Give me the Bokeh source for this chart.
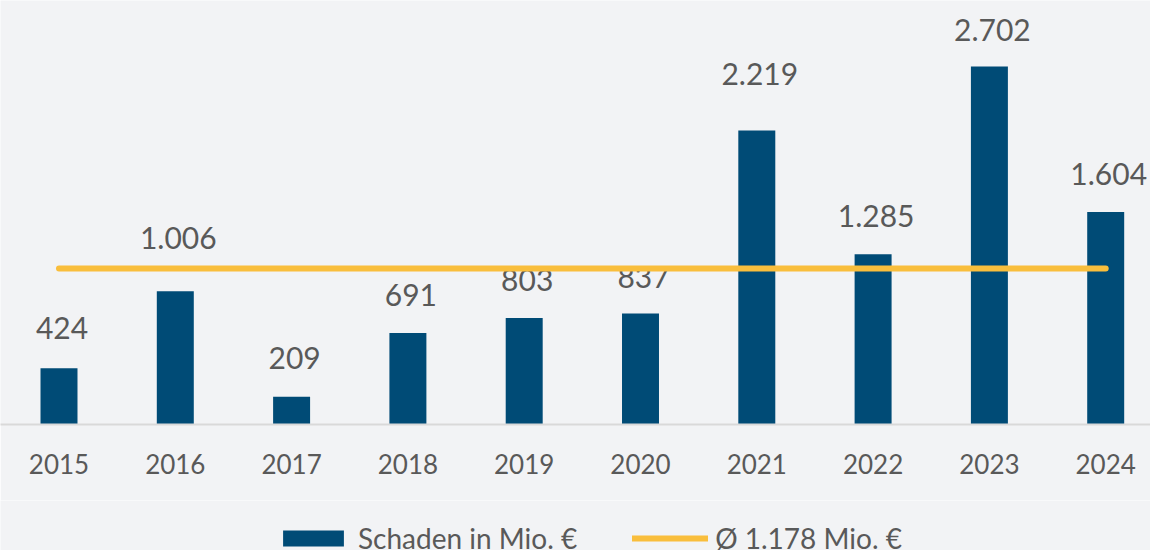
from bokeh.plotting import figure
from bokeh.layouts import column
from bokeh.models import ColumnDataSource, FixedTicker, Range1d, Legend, LegendItem
from bokeh.core.properties import value
from bokeh.embed import file_html
from bokeh.resources import INLINE

# ---- data ----
years = ["2015", "2016", "2017", "2018", "2019", "2020", "2021", "2022", "2023", "2024"]
damage = [424, 1006, 209, 691, 803, 837, 2219, 1285, 2702, 1604]
avg_value = 1178
bar_name = "Schaden in Mio. €"
avg_name = "Ø 1.178 Mio. €"

def de_fmt(v):
    return f"{v:,}".replace(",", ".")

labels = [de_fmt(v) for v in damage]
# label lift above bar top (px) - style
lift = [40, 53, 39, 38, 38, 37, 56, 38, 36, 38]

BG = "#F2F3F5"
BAR = "#004B76"
AVG = "#F9BE3C"
TXT = "#595959"
FONT = "Lato"

W = 1150
H1, H2 = 500, 50
FRAME_BOTTOM = 424
spacing = 116.3
c0 = 58.5
xs = list(range(len(years)))
x_start = -c0 / spacing
x_end = x_start + W / spacing

p = figure(width=W, height=H1, output_backend="svg", toolbar_location=None,
           x_range=Range1d(x_start, x_end), y_range=Range1d(0, FRAME_BOTTOM / 0.1325),
           y_axis_location=None, min_border_left=0, min_border_right=0,
           min_border_top=0, min_border_bottom=H1 - FRAME_BOTTOM)
p.background_fill_color = BG
p.border_fill_color = BG
p.outline_line_color = None
p.grid.visible = False

src = ColumnDataSource(dict(x=xs, y=damage, label=labels, off=[-v for v in lift]))

bars = p.vbar(x="x", top="y", width=0.318, bottom=0, source=src,
              fill_color=BAR, line_color=None)

p.text(x="x", y="y", text="label", source=src, text_align="center",
       text_baseline="alphabetic", y_offset="off", x_offset=3,
       text_font=value(FONT), text_font_size="30px", text_color=TXT)

avg_src = ColumnDataSource(dict(x=[xs[0], xs[-1]], y=[avg_value, avg_value]))
avg_line = p.line(x="x", y="y", source=avg_src, line_color=AVG, line_width=6,
                  line_cap="round")

ax = p.xaxis[0]
ax.ticker = FixedTicker(ticks=xs)
ax.major_label_overrides = {i: y for i, y in zip(xs, years)}
ax.major_label_text_font = FONT
ax.major_label_text_font_size = "26px"
ax.major_label_text_color = TXT
ax.major_label_standoff = 23
ax.major_tick_line_color = None
ax.minor_tick_line_color = None
ax.axis_line_color = "#D9D9D9"
ax.axis_line_width = 2

# ---- legend strip (separate figure below the chart) ----
q = figure(width=W, height=H2, output_backend="svg", toolbar_location=None,
           x_range=Range1d(0, 1), y_range=Range1d(0, 1),
           x_axis_location=None, y_axis_location=None,
           min_border_left=0, min_border_right=0, min_border_top=0, min_border_bottom=0)
q.background_fill_color = BG
q.border_fill_color = BG
q.outline_line_color = None
q.grid.visible = False
# proxy renderers (kept outside the visible range) that only supply the legend swatches
leg_bar = q.vbar(x=[5], top=[1], width=0.3, fill_color=BAR, line_color=None)
leg_line = q.line(x=[5, 6], y=[0.5, 0.5], line_color=AVG, line_width=6, line_cap="round")

legend = Legend(items=[LegendItem(label=bar_name, renderers=[leg_bar]),
                       LegendItem(label=avg_name, renderers=[leg_line])],
                location=(275, -5), orientation="horizontal",
                glyph_width=76, glyph_height=20, label_standoff=7, spacing=55,
                padding=0, margin=0, background_fill_alpha=0,
                border_line_color=None, label_text_font=FONT,
                label_text_font_size="28px", label_text_color=TXT)
q.add_layout(legend, "center")

layout = column(p, q, spacing=0)
open("out.html", "w").write(file_html(layout, INLINE))
